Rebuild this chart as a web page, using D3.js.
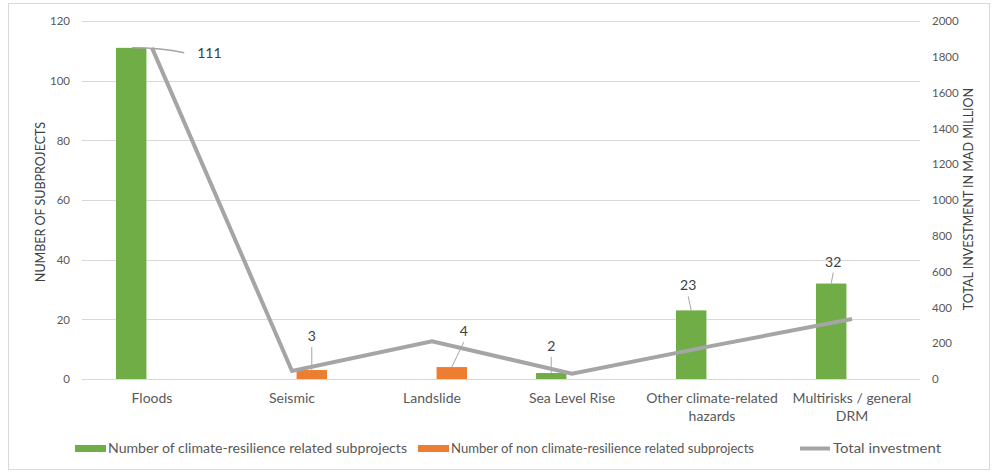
<!DOCTYPE html>
<html>
<head>
<meta charset="utf-8">
<script src="https://cdn.jsdelivr.net/npm/d3@7/dist/d3.min.js"></script>
<style>
  html, body { margin: 0; padding: 0; background: #fff; }
  svg { display: block; font-family: Lato, "Open Sans", sans-serif; }
</style>
</head>
<body>
<svg id="chart" width="995" height="475"></svg>
<script>
// Categories and series
const categories = ["Floods", "Seismic", "Landslide", "Sea Level Rise", "Other climate-related hazards", "Multirisks / general DRM"];
const categoryLines = [["Floods"], ["Seismic"], ["Landslide"], ["Sea Level Rise"], ["Other climate-related", "hazards"], ["Multirisks / general", "DRM"]];
const climateCounts = [111, 0, 0, 2, 23, 32];
const nonClimateCounts = [0, 3, 4, 0, 0, 0];
const totalInvestment = [1850, 45, 210, 30, 185, 335];
const leftTicks = [0, 20, 40, 60, 80, 100, 120];
const rightTicks = [0, 200, 400, 600, 800, 1000, 1200, 1400, 1600, 1800, 2000];
const seriesNames = ["Number of climate-resilience related subprojects", "Number of non climate-resilience related subprojects", "Total investment"];

const colors = { climate: "#70ad47", non: "#ed7d31", line: "#a5a5a5", grid: "#d9d9d9", text: "#595959", label: "#404040" };

const svg = d3.select("#chart");

// Outer frame
svg.append("rect").attr("x", 8.5).attr("y", 3.5).attr("width", 981).attr("height", 466)
  .attr("fill", "none").attr("stroke", "#d9d9d9");

const plotLeft = 82, plotRight = 922, plotTop = 21, plotBottom = 379;

const x = d3.scaleBand().domain(categories).range([plotLeft, plotRight]).paddingInner(0).paddingOuter(0);
const bw = x.bandwidth();
const xSub = d3.scaleBand().domain(["climate", "non"]).range([bw / 2 - 36, bw / 2 + 35]).paddingInner(0.25);
const yL = d3.scaleLinear().domain([0, 120]).range([plotBottom, plotTop]);
const yR = d3.scaleLinear().domain([0, 2000]).range([plotBottom, plotTop]);

// Gridlines
svg.append("g").selectAll("line").data(leftTicks).join("line")
  .attr("x1", plotLeft).attr("x2", plotRight - 2)
  .attr("y1", d => Math.round(yL(d)) + 0.5).attr("y2", d => Math.round(yL(d)) + 0.5)
  .attr("stroke", colors.grid).attr("stroke-width", 1);

// Left axis
const axL = svg.append("g").attr("transform", `translate(${plotLeft},0)`)
  .call(d3.axisLeft(yL).tickValues(leftTicks).tickFormat(d3.format("d")).tickSize(0).tickPadding(12));
axL.select(".domain").remove();
axL.selectAll("text").attr("fill", colors.text).attr("font-size", 11.5).attr("font-family", "Lato, sans-serif");

// Right axis
const axR = svg.append("g").attr("transform", `translate(${plotRight},0)`)
  .call(d3.axisRight(yR).tickValues(rightTicks).tickFormat(d3.format("d")).tickSize(0).tickPadding(10));
axR.select(".domain").remove();
axR.selectAll("text").attr("fill", colors.text).attr("font-size", 11.5).attr("font-family", "Lato, sans-serif");

// Axis titles
svg.append("text").attr("transform", `translate(45,${(plotTop + plotBottom) / 2 + 2}) rotate(-90)`)
  .attr("text-anchor", "middle").attr("fill", colors.label).attr("font-size", 12.5)
  .text("NUMBER OF SUBPROJECTS");
svg.append("text").attr("transform", `translate(973,${(plotTop + plotBottom) / 2 - 1}) rotate(-90)`)
  .attr("text-anchor", "middle").attr("fill", colors.label).attr("font-size", 12.5)
  .text("TOTAL INVESTMENT IN MAD MILLION");

// Category labels
const catG = svg.append("g");
categories.forEach((c, i) => {
  const t = catG.append("text").attr("x", x(c) + bw / 2).attr("y", 403)
    .attr("text-anchor", "middle").attr("fill", colors.text).attr("font-size", 14);
  categoryLines[i].forEach((ln, j) => {
    t.append("tspan").attr("x", x(c) + bw / 2).attr("dy", j === 0 ? 0 : 18).text(ln);
  });
});

// Bars
const rows = categories.map((c, i) => ({ c, climate: climateCounts[i], non: nonClimateCounts[i], inv: totalInvestment[i] }));
const barG = svg.append("g");
["climate", "non"].forEach(k => {
  barG.selectAll(null).data(rows.filter(r => r[k] > 0)).join("rect")
    .attr("x", r => x(r.c) + xSub(k))
    .attr("width", xSub.bandwidth())
    .attr("y", r => yL(r[k]))
    .attr("height", r => yL(0) - yL(r[k]))
    .attr("fill", colors[k]);
});

// Investment line
const line = d3.line().x(r => x(r.c) + bw / 2).y(r => yR(r.inv));
svg.append("path").datum(rows).attr("d", line)
  .attr("fill", "none").attr("stroke", colors.line).attr("stroke-width", 4).attr("stroke-linejoin", "miter");

// Data labels with leader lines
const labelOffsets = { "Floods": [66, 5], "Seismic": [0, -31], "Landslide": [12, -33], "Sea Level Rise": [0, -24], "Other climate-related hazards": [-3, -22], "Multirisks / general DRM": [2, -19] };
const labG = svg.append("g");
rows.forEach(r => {
  const k = r.climate > 0 ? "climate" : "non";
  const v = r[k];
  const bx = x(r.c) + xSub(k) + xSub.bandwidth() / 2;
  const by = yL(v);
  const [dx, dy] = labelOffsets[r.c];
  const lx = bx + dx, ly = by + dy;
  if (r.c === "Floods") {
    labG.append("path").attr("d", `M${bx + 1},${by} Q${bx + 30},${by} ${lx - 13},${ly}`)
      .attr("fill", "none").attr("stroke", colors.line).attr("stroke-width", 1.5);
    labG.append("text").attr("x", lx).attr("y", ly + 5).attr("fill", colors.label).attr("font-size", 14).text(v);
  } else {
    labG.append("line").attr("x1", lx).attr("y1", ly + 8).attr("x2", bx).attr("y2", by)
      .attr("stroke", "#a6a6a6").attr("stroke-width", 1);
    labG.append("text").attr("x", lx).attr("y", ly + 2).attr("text-anchor", "middle")
      .attr("fill", colors.label).attr("font-size", 14).text(v);
  }
});

// Legend
const legG = svg.append("g").attr("font-size", 12.5).attr("fill", colors.text);
const legendItems = [
  { name: seriesNames[0], x: 75, kind: "rect", color: colors.climate, w: 299 },
  { name: seriesNames[1], x: 418, kind: "rect", color: colors.non, w: 303 },
  { name: seriesNames[2], x: 800, kind: "line", color: colors.line, w: 108 }
];
legendItems.forEach(it => {
  if (it.kind === "rect") {
    legG.append("rect").attr("x", it.x).attr("y", 445).attr("width", 31).attr("height", 7).attr("fill", it.color);
  } else {
    legG.append("line").attr("x1", it.x).attr("x2", it.x + 30).attr("y1", 448.5).attr("y2", 448.5)
      .attr("stroke", it.color).attr("stroke-width", 4);
  }
  legG.append("text").attr("x", it.x + 33).attr("y", 453).attr("textLength", it.w)
    .attr("lengthAdjust", "spacingAndGlyphs").text(it.name);
});
</script>
</body>
</html>
